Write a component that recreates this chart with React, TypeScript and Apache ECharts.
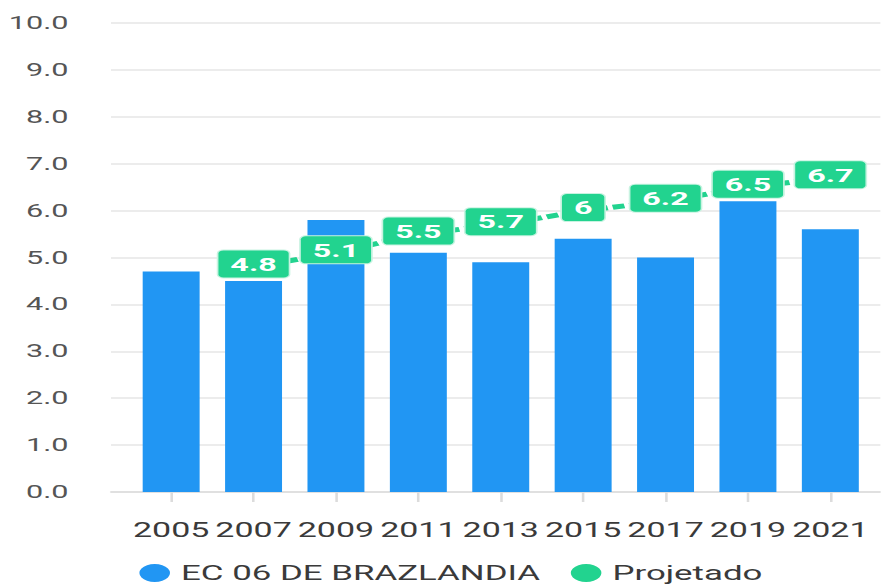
import React, { useEffect, useRef } from "react";
import * as echarts from "echarts";

const years = [2005, 2007, 2009, 2011, 2013, 2015, 2017, 2019, 2021];
const schoolValues = [4.7, 4.5, 5.8, 5.1, 4.9, 5.4, 5.0, 6.2, 5.6];
const projectedYears = [2007, 2009, 2011, 2013, 2015, 2017, 2019, 2021];
const projectedValues = [4.8, 5.1, 5.5, 5.7, 6, 6.2, 6.5, 6.7];
const seriesNames = ["EC 06 DE BRAZLANDIA", "Projetado"];

const STRETCH = 1.7;
const W = 881 / STRETCH;
const H = 585;

export default function App() {
  const ref = useRef<HTMLDivElement>(null);
  useEffect(() => {
    if (!ref.current) return;
    const chart = echarts.init(ref.current, undefined, { renderer: "svg" });
    chart.setOption({
      animation: false,
      textStyle: { fontFamily: "Roboto" },
      grid: { left: 65.3, right: 0, top: 23, bottom: 93, containLabel: false },
      legend: {
        left: 77,
        top: 557,
        itemWidth: 21,
        itemHeight: 18,
        itemGap: 18,
        icon: "circle",
        textStyle: { fontSize: 20.5, lineHeight: 22, color: "#3a3a3a" },
        data: seriesNames,
      },
      xAxis: {
        type: "value",
        min: 2003.54,
        max: 2022.22,
        splitLine: { show: false },
        axisLine: { show: true, lineStyle: { color: "#dcdcdc", width: 1.5 } },
        axisTick: {
          show: true,
          customValues: years,
          length: 10,
          lineStyle: { color: "#dcdcdc", width: 1.5 },
        },
        axisLabel: {
          customValues: years,
          formatter: (v: number) => String(v),
          fontSize: 20,
          color: "#3a3a3a",
          margin: 28,
        },
      },
      yAxis: {
        type: "value",
        min: 0,
        max: 10,
        interval: 1,
        axisLine: { show: false },
        axisTick: { show: false },
        splitLine: { lineStyle: { color: "#e6e6e6", width: 1.5 } },
        axisLabel: {
          formatter: (v: number) => v.toFixed(1),
          fontSize: 18,
          color: "#555555",
          margin: 25,
        },
      },
      series: [
        {
          name: seriesNames[0],
          type: "bar",
          barWidth: 33.5,
          itemStyle: { color: "#2196F3" },
          data: years.map((y, i) => [y, schoolValues[i]]),
        },
        {
          name: seriesNames[1],
          type: "line",
          symbol: "circle",
          symbolSize: 0.1,
          itemStyle: { color: "#22D38F" },
          lineStyle: { color: "#22D38F", width: 5, type: [7, 3] },
          label: {
            show: true,
            position: "inside",
            offset: [0, -3],
            color: "#ffffff",
            fontSize: 19,
            fontWeight: "bold",
            backgroundColor: "#22D38F",
            borderColor: "#c8f3e1",
            borderWidth: 1,
            borderRadius: 3,
            padding: [4, 7, 4, 7],
          },
          z: 3,
          data: projectedYears.map((y, i) => [y, projectedValues[i]]),
        },
      ],
    });
    return () => chart.dispose();
  }, []);
  return (
    <div
      ref={ref}
      style={{
        position: "absolute",
        left: 0,
        top: 0,
        width: W,
        height: H,
        transform: `scaleX(${STRETCH})`,
        transformOrigin: "0 0",
      }}
    />
  );
}
